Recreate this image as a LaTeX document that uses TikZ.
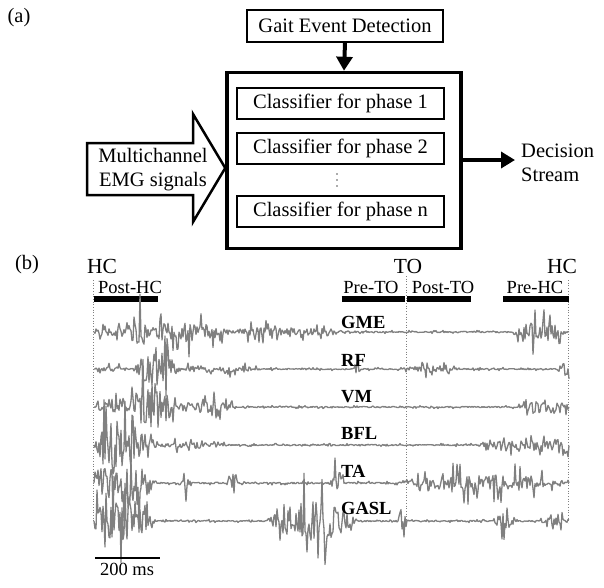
\documentclass[tikz,border=0pt]{standalone}
\usepackage{fontspec}
\setmainfont{Liberation Serif}
\usetikzlibrary{arrows.meta}
\pgfmathdeclarefunction{bmp}{3}{\pgfmathparse{max(0,1-min(abs(#1-#2)/#3,2)^2)}}
\pgfmathdeclarefunction{eGME}{1}{\pgfmathparse{1.0+6*bmp(#1,110,20)+24*bmp(#1,135,12)+16*bmp(#1,180,48)+7*bmp(#1,275,65)+16*bmp(#1,540,28)}}
\pgfmathdeclarefunction{eRF}{1}{\pgfmathparse{1.0+3*bmp(#1,110,20)+28*bmp(#1,155,22)+5*bmp(#1,215,50)+7*bmp(#1,357,4)+4.5*bmp(#1,430,28)+11*bmp(#1,565,8)}}
\pgfmathdeclarefunction{eVM}{1}{\pgfmathparse{1.0+9*bmp(#1,110,20)+40*bmp(#1,152,24)+9*bmp(#1,205,35)+9*bmp(#1,545,28)}}
\pgfmathdeclarefunction{eBFL}{1}{\pgfmathparse{1.0+40*bmp(#1,122,32)+4.5*bmp(#1,190,40)+7*bmp(#1,525,50)+15*bmp(#1,560,10)}}
\pgfmathdeclarefunction{eTA}{1}{\pgfmathparse{1.2+42*bmp(#1,122,35)+11*bmp(#1,187,5)+15*bmp(#1,232,6)+24*bmp(#1,337,8)+13*bmp(#1,485,85)}}
\pgfmathdeclarefunction{eGASL}{1}{\pgfmathparse{1.0+32*bmp(#1,118,38)+32*bmp(#1,312,46)+22*bmp(#1,403,5)+13*bmp(#1,505,12)+13*bmp(#1,555,15)}}
\tikzset{
  lbl/.style={font=\fontsize{20.5}{24}\selectfont, inner sep=0pt},
  clsbox/.style={draw, line width=2pt, minimum width=207pt, minimum height=31pt, inner sep=0pt, font=\fontsize{20.5}{24}\selectfont},
  gaitbox/.style={draw, line width=2pt, minimum width=196pt, minimum height=32pt, inner sep=0pt, font=\fontsize{20.5}{24}\selectfont},
  bigbox/.style={draw, line width=3.5pt, minimum width=234pt, minimum height=176pt, inner sep=0pt},
  bigarrow/.style={line width=4pt, -{Triangle[length=14pt,width=16pt]}},
  blockarrow/.style={draw, line width=2.5pt, line join=miter},
  trace/.style={draw=black!50, line width=1.3pt, line join=round},
  evline/.style={draw=black!50, dotted, line width=0.7pt},
  phasebar/.style={line width=6pt},
  evlbl/.style={font=\fontsize{21.5}{24}\selectfont, inner sep=0pt},
  phlbl/.style={font=\fontsize{18.5}{22}\selectfont, inner sep=0pt},
  mlbl/.style={font=\fontsize{18.5}{22}\selectfont\bfseries, inner sep=0pt, anchor=west},
  dot/.style={fill=black!65},
}
\begin{document}
\begin{tikzpicture}[x=1pt,y=-1pt]
\useasboundingbox (0,0) rectangle (604,587);
\fill[white] (0,0) rectangle (604,587);
% ---------------- (a)
\node[lbl] (la) at (19,18) {(a)};
\node[gaitbox] (gait) at (345,26) {Gait Event Detection};
\node[bigbox] (big) at (344,160.5) {};
\node[clsbox] (c1) at (340.5,103) {Classifier for phase 1};
\node[clsbox] (c2) at (340.5,148) {Classifier for phase 2};
\fill[dot] (337,174) circle (0.9pt);
\fill[dot] (337,180) circle (0.9pt);
\fill[dot] (337,186) circle (0.9pt);
\node[clsbox] (cn) at (340.5,211.5) {Classifier for phase n};
\draw[bigarrow] (gait.south) -- (big.north);
% block arrow
\coordinate (tip) at (big.west |- 0,168);
\draw[blockarrow] (87,143) -- (193,143) -- (193,114) -- (tip) -- (193,222) -- (193,195) -- (87,195) -- cycle;
\node[lbl, align=center] (emg) at (153,170) {Multichannel\\EMG signals};
% output
\coordinate (dend) at (515,160);
\draw[bigarrow] (big.east |- dend) -- (dend);
\node[lbl, align=left, anchor=west] (dec) at (521,163) {Decision\\Stream};
% ---------------- (b)
\node[lbl] (lb) at (27,265) {(b)};
\node[evlbl] (hc1) at (102,266) {HC};
\node[evlbl] (to) at (408,266) {TO};
\node[evlbl] (hc2) at (562,266) {HC};
\coordinate (v1t) at (93.5,280); \coordinate (v1b) at (93.5,523);
\coordinate (v2t) at (406,276); \coordinate (v2b) at (406,523);
\coordinate (v3t) at (568.5,280); \coordinate (v3b) at (568.5,523);
\draw[evline] (v1t) -- (v1b);
\draw[evline] (v2t) -- (v2b);
\draw[evline] (v3t) -- (v3b);
\node[phlbl] (p1) at (130,287) {Post-HC};
\node[phlbl] (p2) at (371,287) {Pre-TO};
\node[phlbl] (p3) at (443,287) {Post-TO};
\node[phlbl] (p4) at (535,287) {Pre-HC};
\draw[phasebar] (93.5,299) -- (158,299);
\draw[phasebar] (341.5,299) -- (405,299);
\draw[phasebar] (407,299) -- (471,299);
\draw[phasebar] (503,299) -- (568.5,299);
% traces
\pgfmathsetseed{271}
\draw[trace] (94,332) \foreach \x in {95,...,569} { -- (\x,{332+eGME(\x)*rand*(0.6+1.0*(rnd>0.75))}) };
\draw[trace] (94,369) \foreach \x in {95,...,569} { -- (\x,{369+eRF(\x)*rand*(0.6+1.0*(rnd>0.75))}) };
\draw[trace] (94,407) \foreach \x in {95,...,569} { -- (\x,{407+eVM(\x)*rand*(0.6+1.0*(rnd>0.75))}) };
\draw[trace] (94,445) \foreach \x in {95,...,569} { -- (\x,{445+eBFL(\x)*rand*(0.6+1.0*(rnd>0.75))}) };
\draw[trace] (94,483) \foreach \x in {95,...,569} { -- (\x,{483+eTA(\x)*rand*(0.6+1.0*(rnd>0.75))}) };
\draw[trace] (94,521) \foreach \x in {95,...,569} { -- (\x,{521+eGASL(\x)*rand*(0.6+1.0*(rnd>0.75))}) };
\node[mlbl] (gme) at (341,322) {GME};
\node[mlbl] (rf) at (341,360) {RF};
\node[mlbl] (vm) at (341,397) {VM};
\node[mlbl] (bfl) at (341,433) {BFL};
\node[mlbl] (ta) at (341,471) {TA};
\node[mlbl] (gasl) at (341,508) {GASL};
% scale bar
\coordinate (sb1) at (95,558); \coordinate (sb2) at (160,558);
\draw[line width=1.5pt] (sb1) -- (sb2);
\node[phlbl] (sbl) at (127,569) {200 ms};
\end{tikzpicture}
\end{document}
